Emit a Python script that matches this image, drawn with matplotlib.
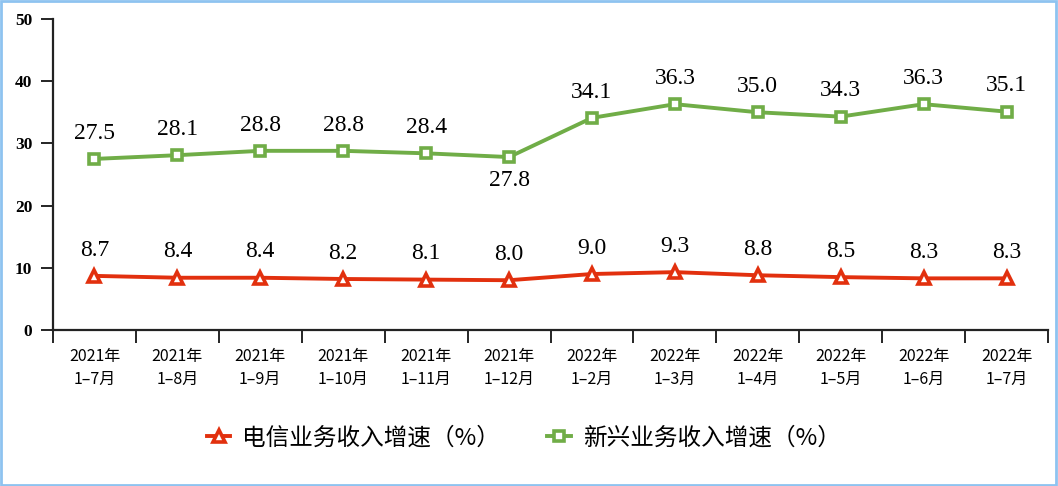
import matplotlib.pyplot as plt
from matplotlib.patches import Rectangle

plt.rcParams['font.family'] = ['Noto Sans CJK SC', 'DejaVu Sans']

categories = ["2021年\n1–7月", "2021年\n1–8月", "2021年\n1–9月", "2021年\n1–10月",
              "2021年\n1–11月", "2021年\n1–12月", "2022年\n1–2月", "2022年\n1–3月",
              "2022年\n1–4月", "2022年\n1–5月", "2022年\n1–6月", "2022年\n1–7月"]
telecom = [8.7, 8.4, 8.4, 8.2, 8.1, 8.0, 9.0, 9.3, 8.8, 8.5, 8.3, 8.3]
emerging = [27.5, 28.1, 28.8, 28.8, 28.4, 27.8, 34.1, 36.3, 35.0, 34.3, 36.3, 35.1]
yticks = [0, 10, 20, 30, 40, 50]

red = '#E2300E'
green = '#70AD47'

fig = plt.figure(figsize=(10.58, 4.86), dpi=100)
ax = fig.add_axes([0.0501, 0.321, 0.9405, 0.640])

x = list(range(len(categories)))
ax.plot(x, telecom, color=red, lw=2.8, marker='^', ms=9, mfc='white', mec=red, mew=2.6,
        label='电信业务收入增速（%）')
ax.plot(x, emerging, color=green, lw=2.8, marker='s', ms=7, mfc='white', mec=green, mew=2.6,
        label='新兴业务收入增速（%）')

for i, v in enumerate(telecom):
    ax.annotate(f"{v:.1f}", (i, v), xytext=(0, 11), textcoords='offset points',
                ha='center', va='bottom', fontsize=17, family='Liberation Serif')
for i, v in enumerate(emerging):
    dy, va = (11, 'bottom')
    if i == 5:
        dy, va = (-9, 'top')
    ax.annotate(f"{v:.1f}", (i, v), xytext=(0, dy), textcoords='offset points',
                ha='center', va=va, fontsize=17, family='Liberation Serif')

ax.set_xlim(-0.5, len(categories) - 0.5)
ax.set_ylim(0, 50)
ax.set_yticks(yticks)
ax.set_yticklabels([str(t) for t in yticks], family='Liberation Serif', fontweight='bold', fontsize=12.5)
ax.set_xticks([i - 0.5 for i in range(len(categories) + 1)])
ax.set_xticklabels([])
ax.set_xticks(x, minor=True)
ax.set_xticklabels(categories, minor=True, fontsize=11.5, linespacing=1.45)
ax.tick_params(axis='x', which='major', direction='out', length=9, width=1.2)
ax.tick_params(axis='x', which='minor', length=0, pad=13)
ax.tick_params(axis='y', direction='out', length=9, width=1.2, pad=6)
for s in ['top', 'right']:
    ax.spines[s].set_visible(False)
for s in ['left', 'bottom']:
    ax.spines[s].set_linewidth(1.6)
    ax.spines[s].set_color('#222222')

fig.legend(loc='center', bbox_to_anchor=(0.495, 0.099), ncol=2, frameon=False, fontsize=17,
           handlelength=1.0, columnspacing=2.0, handletextpad=0.5)

fig.patches.append(Rectangle((0.001, 0.002), 0.997, 0.995, transform=fig.transFigure,
                             fill=False, edgecolor='#8EC3F0', lw=2))

fig.savefig('out.png', dpi=100)
